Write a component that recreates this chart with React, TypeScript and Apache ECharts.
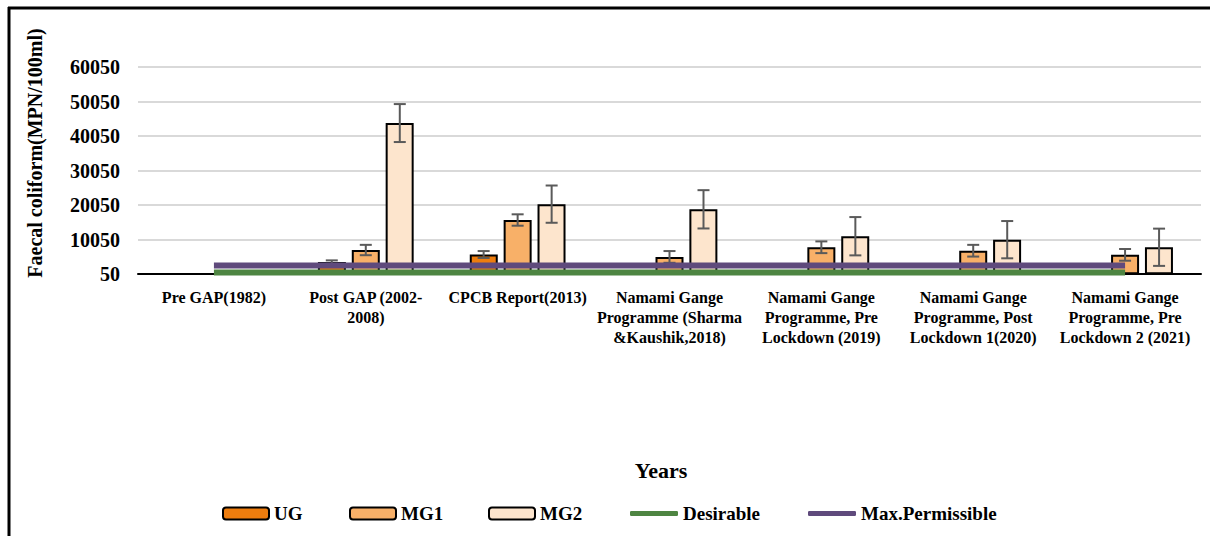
import React, { useEffect, useRef } from "react";
import * as echarts from "echarts";

const CATEGORIES = [
  "Pre GAP(1982)",
  "Post GAP (2002-\n2008)",
  "CPCB Report(2013)",
  "Namami Gange\nProgramme (Sharma\n&Kaushik,2018)",
  "Namami Gange\nProgramme, Pre\nLockdown (2019)",
  "Namami Gange\nProgramme, Post\nLockdown 1(2020)",
  "Namami Gange\nProgramme, Pre\nLockdown 2 (2021)",
];

const UG = [null, 3500, 5700, null, null, null, null];
const UG_ERR = [null, 500, 1000, null, null, null, null];
const MG1 = [null, 7000, 15700, 5000, 7800, 6800, 5600];
const MG1_ERR = [null, 1500, 1650, 1700, 1700, 1700, 1700];
const MG2 = [null, 43800, 20300, 18800, 11000, 10000, 7800];
const MG2_ERR = [null, 5500, 5400, 5550, 5550, 5400, 5400];
const DESIRABLE = [500, 500, 500, 500, 500, 500, 500];
const MAX_PERMISSIBLE = [2500, 2500, 2500, 2500, 2500, 2500, 2500];

const Y_MIN = 50;
const Y_MAX = 60050;
const Y_INTERVAL = 10000;

const FONT = '"Liberation Serif", "Times New Roman", serif';
const BAR_W = 28;
const BAR_STEP = 34;

const COLORS = {
  UG: "#EE7D0E",
  MG1: "#F8B068",
  MG2: "#FDE5CD",
  DES: "#4E8542",
  MAX: "#5F4A7C",
};

function errSeries(name: string, vals: (number | null)[], errs: (number | null)[], offset: number) {
  const data = vals
    .map((v, i) => (v == null ? null : [i, v, errs[i] ?? 0]))
    .filter((d) => d !== null);
  return {
    type: "custom",
    name: name + " err",
    z: 5,
    data,
    encode: { x: 0, y: 1 },
    renderItem: (params: any, api: any) => {
      const idx = api.value(0);
      const v = api.value(1);
      const e = api.value(2);
      const top = api.coord([idx, v + e]);
      const bot = api.coord([idx, v - e]);
      const x = top[0] + offset;
      const style = { stroke: "#5a5a5a", lineWidth: 2 };
      return {
        type: "group",
        children: [
          { type: "line", shape: { x1: x, y1: top[1], x2: x, y2: bot[1] }, style },
          { type: "line", shape: { x1: x - 6, y1: top[1], x2: x + 6, y2: top[1] }, style },
          { type: "line", shape: { x1: x - 6, y1: bot[1], x2: x + 6, y2: bot[1] }, style },
        ],
      };
    },
  };
}

function barSeries(name: string, vals: (number | null)[], color: string) {
  return {
    type: "bar",
    name,
    data: vals,
    barWidth: BAR_W,
    barGap: "21%",
    z: 3,
    itemStyle: { color, borderColor: "#000", borderWidth: 2 },
  };
}

function lineSeries(name: string, vals: number[], color: string, z: number) {
  return {
    type: "line",
    name,
    data: vals,
    showSymbol: false,
    symbol: "none",
    z,
    lineStyle: { color, width: 6 },
    itemStyle: { color },
  };
}

const legendText = { fontFamily: FONT, fontWeight: "bold", fontSize: 19, color: "#000" };
const legendBase = { top: 504, padding: 0, itemGap: 0, textStyle: legendText };

export default function App() {
  const ref = useRef<HTMLDivElement>(null);
  useEffect(() => {
    if (!ref.current) return;
    const chart = echarts.init(ref.current, undefined, { renderer: "svg" });
    chart.setOption({
      animation: false,
      backgroundColor: "#fff",
      grid: { left: 138, right: 9, top: 67, bottom: 262, containLabel: false },
      xAxis: {
        type: "category",
        data: CATEGORIES,
        axisLine: { lineStyle: { color: "#000", width: 2 } },
        axisTick: { show: false },
        axisLabel: {
          interval: 0,
          fontFamily: FONT,
          fontWeight: "bold",
          fontSize: 16,
          lineHeight: 20,
          color: "#000",
          margin: 13,
        },
      },
      yAxis: {
        type: "value",
        min: Y_MIN,
        max: Y_MAX,
        interval: Y_INTERVAL,
        axisLine: { show: false },
        axisTick: { show: false },
        splitLine: { lineStyle: { color: "#d9d9d9", width: 2 } },
        axisLabel: {
          fontFamily: FONT,
          fontWeight: "bold",
          fontSize: 20,
          color: "#000",
          margin: 18,
          formatter: (v: number) => String(v),
        },
      },
      legend: [
        { ...legendBase, data: ["UG"], left: 222, itemWidth: 46, itemHeight: 12 },
        { ...legendBase, data: ["MG1"], left: 349, itemWidth: 46, itemHeight: 12 },
        { ...legendBase, data: ["MG2"], left: 488, itemWidth: 46, itemHeight: 12 },
        { ...legendBase, data: [{ name: "Desirable", icon: "roundRect" }], left: 630, itemWidth: 48, itemHeight: 5 },
        { ...legendBase, data: [{ name: "Max.Permissible", icon: "roundRect" }], left: 808, itemWidth: 48, itemHeight: 5 },
      ],
      graphic: [
        { type: "line", shape: { x1: 8, y1: 8, x2: 1210, y2: 8 }, style: { stroke: "#000", lineWidth: 3 } },
        { type: "line", shape: { x1: 9, y1: 7, x2: 9, y2: 536 }, style: { stroke: "#000", lineWidth: 3 } },
        {
          type: "text",
          x: 35,
          y: 153,
          rotation: Math.PI / 2,
          style: {
            text: "Faecal coliform(MPN/100ml)",
            fontFamily: FONT,
            fontWeight: "bold",
            fontSize: 20,
            fill: "#000",
            textAlign: "center",
            textVerticalAlign: "middle",
          },
        },
        {
          type: "text",
          x: 661,
          y: 470,
          style: {
            text: "Years",
            fontFamily: FONT,
            fontWeight: "bold",
            fontSize: 22,
            fill: "#000",
            textAlign: "center",
            textVerticalAlign: "middle",
          },
        },
      ],
      series: [
        barSeries("UG", UG, COLORS.UG),
        barSeries("MG1", MG1, COLORS.MG1),
        barSeries("MG2", MG2, COLORS.MG2),
        errSeries("UG", UG, UG_ERR, -BAR_STEP),
        errSeries("MG1", MG1, MG1_ERR, 0),
        errSeries("MG2", MG2, MG2_ERR, BAR_STEP),
        lineSeries("Desirable", DESIRABLE, COLORS.DES, 8),
        lineSeries("Max.Permissible", MAX_PERMISSIBLE, COLORS.MAX, 9),
      ],
    });
    return () => chart.dispose();
  }, []);
  return (
    <div
      ref={ref}
      style={{ position: "fixed", left: 0, top: 0, width: 1210, height: 536, background: "#fff" }}
    />
  );
}
